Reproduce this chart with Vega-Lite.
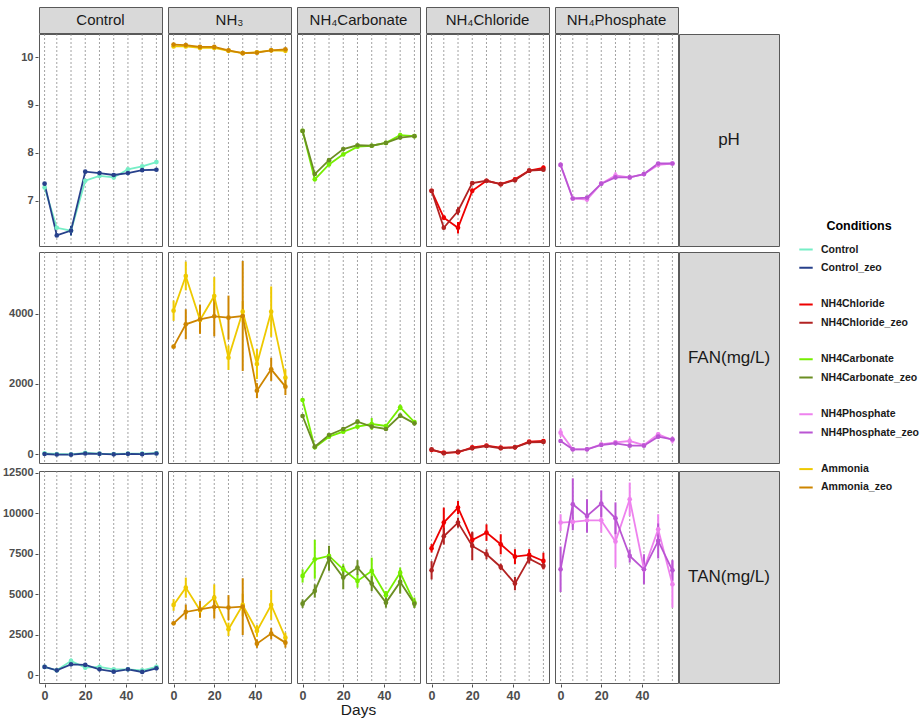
{
"$schema": "https://vega.github.io/schema/vega-lite/v6.json",
"background": "white",
"padding": {"left": 2, "top": 6, "right": 0, "bottom": 0},
"datasets": {
"strips": [
{"p":"Control","lab":"Control"},{"p":"NH3","lab":"NH₃"},{"p":"NH4Carbonate","lab":"NH₄Carbonate"},{"p":"NH4Chloride","lab":"NH₄Chloride"},{"p":"NH4Phosphate","lab":"NH₄Phosphate"}],
"d": [
{"p":"Control","m":"pH","c":"Control","d":0,"y":7.28,"e":0.03},{"p":"Control","m":"pH","c":"Control","d":6,"y":6.44,"e":0.03},{"p":"Control","m":"pH","c":"Control","d":13,"y":6.38,"e":0.1},{"p":"Control","m":"pH","c":"Control","d":20,"y":7.42,"e":0.03},{"p":"Control","m":"pH","c":"Control","d":27,"y":7.52,"e":0.03},{"p":"Control","m":"pH","c":"Control","d":34,"y":7.49,"e":0.04},{"p":"Control","m":"pH","c":"Control","d":41,"y":7.66,"e":0.03},{"p":"Control","m":"pH","c":"Control","d":48,"y":7.72,"e":0.03},{"p":"Control","m":"pH","c":"Control","d":55,"y":7.81,"e":0.03},
{"p":"Control","m":"pH","c":"Control_zeo","d":0,"y":7.36,"e":0.02},{"p":"Control","m":"pH","c":"Control_zeo","d":6,"y":6.28,"e":0.02},{"p":"Control","m":"pH","c":"Control_zeo","d":13,"y":6.38,"e":0.1},{"p":"Control","m":"pH","c":"Control_zeo","d":20,"y":7.61,"e":0.02},{"p":"Control","m":"pH","c":"Control_zeo","d":27,"y":7.58,"e":0.02},{"p":"Control","m":"pH","c":"Control_zeo","d":34,"y":7.54,"e":0.02},{"p":"Control","m":"pH","c":"Control_zeo","d":41,"y":7.58,"e":0.02},{"p":"Control","m":"pH","c":"Control_zeo","d":48,"y":7.64,"e":0.02},{"p":"Control","m":"pH","c":"Control_zeo","d":55,"y":7.65,"e":0.02},
{"p":"NH3","m":"pH","c":"Ammonia","d":0,"y":10.22,"e":0.03},{"p":"NH3","m":"pH","c":"Ammonia","d":6,"y":10.22,"e":0.03},{"p":"NH3","m":"pH","c":"Ammonia","d":13,"y":10.19,"e":0.03},{"p":"NH3","m":"pH","c":"Ammonia","d":20,"y":10.19,"e":0.03},{"p":"NH3","m":"pH","c":"Ammonia","d":27,"y":10.13,"e":0.03},{"p":"NH3","m":"pH","c":"Ammonia","d":34,"y":10.08,"e":0.03},{"p":"NH3","m":"pH","c":"Ammonia","d":41,"y":10.1,"e":0.03},{"p":"NH3","m":"pH","c":"Ammonia","d":48,"y":10.14,"e":0.03},{"p":"NH3","m":"pH","c":"Ammonia","d":55,"y":10.13,"e":0.03},
{"p":"NH3","m":"pH","c":"Ammonia_zeo","d":0,"y":10.26,"e":0.02},{"p":"NH3","m":"pH","c":"Ammonia_zeo","d":6,"y":10.25,"e":0.02},{"p":"NH3","m":"pH","c":"Ammonia_zeo","d":13,"y":10.21,"e":0.02},{"p":"NH3","m":"pH","c":"Ammonia_zeo","d":20,"y":10.21,"e":0.02},{"p":"NH3","m":"pH","c":"Ammonia_zeo","d":27,"y":10.14,"e":0.02},{"p":"NH3","m":"pH","c":"Ammonia_zeo","d":34,"y":10.08,"e":0.02},{"p":"NH3","m":"pH","c":"Ammonia_zeo","d":41,"y":10.09,"e":0.02},{"p":"NH3","m":"pH","c":"Ammonia_zeo","d":48,"y":10.14,"e":0.02},{"p":"NH3","m":"pH","c":"Ammonia_zeo","d":55,"y":10.16,"e":0.02},
{"p":"NH4Carbonate","m":"pH","c":"NH4Carbonate","d":0,"y":8.46,"e":0.03},{"p":"NH4Carbonate","m":"pH","c":"NH4Carbonate","d":6,"y":7.45,"e":0.04},{"p":"NH4Carbonate","m":"pH","c":"NH4Carbonate","d":13,"y":7.76,"e":0.03},{"p":"NH4Carbonate","m":"pH","c":"NH4Carbonate","d":20,"y":7.97,"e":0.03},{"p":"NH4Carbonate","m":"pH","c":"NH4Carbonate","d":27,"y":8.13,"e":0.03},{"p":"NH4Carbonate","m":"pH","c":"NH4Carbonate","d":34,"y":8.15,"e":0.02},{"p":"NH4Carbonate","m":"pH","c":"NH4Carbonate","d":41,"y":8.21,"e":0.02},{"p":"NH4Carbonate","m":"pH","c":"NH4Carbonate","d":48,"y":8.37,"e":0.05},{"p":"NH4Carbonate","m":"pH","c":"NH4Carbonate","d":55,"y":8.35,"e":0.02},
{"p":"NH4Carbonate","m":"pH","c":"NH4Carbonate_zeo","d":0,"y":8.46,"e":0.02},{"p":"NH4Carbonate","m":"pH","c":"NH4Carbonate_zeo","d":6,"y":7.56,"e":0.02},{"p":"NH4Carbonate","m":"pH","c":"NH4Carbonate_zeo","d":13,"y":7.85,"e":0.02},{"p":"NH4Carbonate","m":"pH","c":"NH4Carbonate_zeo","d":20,"y":8.08,"e":0.02},{"p":"NH4Carbonate","m":"pH","c":"NH4Carbonate_zeo","d":27,"y":8.16,"e":0.02},{"p":"NH4Carbonate","m":"pH","c":"NH4Carbonate_zeo","d":34,"y":8.15,"e":0.02},{"p":"NH4Carbonate","m":"pH","c":"NH4Carbonate_zeo","d":41,"y":8.21,"e":0.02},{"p":"NH4Carbonate","m":"pH","c":"NH4Carbonate_zeo","d":48,"y":8.32,"e":0.02},{"p":"NH4Carbonate","m":"pH","c":"NH4Carbonate_zeo","d":55,"y":8.35,"e":0.02},
{"p":"NH4Chloride","m":"pH","c":"NH4Chloride","d":0,"y":7.21,"e":0.03},{"p":"NH4Chloride","m":"pH","c":"NH4Chloride","d":6,"y":6.65,"e":0.05},{"p":"NH4Chloride","m":"pH","c":"NH4Chloride","d":13,"y":6.44,"e":0.12},{"p":"NH4Chloride","m":"pH","c":"NH4Chloride","d":20,"y":7.21,"e":0.05},{"p":"NH4Chloride","m":"pH","c":"NH4Chloride","d":27,"y":7.42,"e":0.02},{"p":"NH4Chloride","m":"pH","c":"NH4Chloride","d":34,"y":7.35,"e":0.03},{"p":"NH4Chloride","m":"pH","c":"NH4Chloride","d":41,"y":7.45,"e":0.03},{"p":"NH4Chloride","m":"pH","c":"NH4Chloride","d":48,"y":7.63,"e":0.03},{"p":"NH4Chloride","m":"pH","c":"NH4Chloride","d":55,"y":7.69,"e":0.05},
{"p":"NH4Chloride","m":"pH","c":"NH4Chloride_zeo","d":0,"y":7.21,"e":0.02},{"p":"NH4Chloride","m":"pH","c":"NH4Chloride_zeo","d":6,"y":6.44,"e":0.03},{"p":"NH4Chloride","m":"pH","c":"NH4Chloride_zeo","d":13,"y":6.79,"e":0.08},{"p":"NH4Chloride","m":"pH","c":"NH4Chloride_zeo","d":20,"y":7.37,"e":0.03},{"p":"NH4Chloride","m":"pH","c":"NH4Chloride_zeo","d":27,"y":7.42,"e":0.02},{"p":"NH4Chloride","m":"pH","c":"NH4Chloride_zeo","d":34,"y":7.35,"e":0.02},{"p":"NH4Chloride","m":"pH","c":"NH4Chloride_zeo","d":41,"y":7.43,"e":0.03},{"p":"NH4Chloride","m":"pH","c":"NH4Chloride_zeo","d":48,"y":7.63,"e":0.03},{"p":"NH4Chloride","m":"pH","c":"NH4Chloride_zeo","d":55,"y":7.65,"e":0.03},
{"p":"NH4Phosphate","m":"pH","c":"NH4Phosphate","d":0,"y":7.75,"e":0.05},{"p":"NH4Phosphate","m":"pH","c":"NH4Phosphate","d":6,"y":7.05,"e":0.03},{"p":"NH4Phosphate","m":"pH","c":"NH4Phosphate","d":13,"y":7.03,"e":0.05},{"p":"NH4Phosphate","m":"pH","c":"NH4Phosphate","d":20,"y":7.36,"e":0.03},{"p":"NH4Phosphate","m":"pH","c":"NH4Phosphate","d":27,"y":7.53,"e":0.07},{"p":"NH4Phosphate","m":"pH","c":"NH4Phosphate","d":34,"y":7.49,"e":0.03},{"p":"NH4Phosphate","m":"pH","c":"NH4Phosphate","d":41,"y":7.56,"e":0.03},{"p":"NH4Phosphate","m":"pH","c":"NH4Phosphate","d":48,"y":7.75,"e":0.03},{"p":"NH4Phosphate","m":"pH","c":"NH4Phosphate","d":55,"y":7.78,"e":0.03},
{"p":"NH4Phosphate","m":"pH","c":"NH4Phosphate_zeo","d":0,"y":7.75,"e":0.02},{"p":"NH4Phosphate","m":"pH","c":"NH4Phosphate_zeo","d":6,"y":7.05,"e":0.02},{"p":"NH4Phosphate","m":"pH","c":"NH4Phosphate_zeo","d":13,"y":7.07,"e":0.02},{"p":"NH4Phosphate","m":"pH","c":"NH4Phosphate_zeo","d":20,"y":7.36,"e":0.02},{"p":"NH4Phosphate","m":"pH","c":"NH4Phosphate_zeo","d":27,"y":7.49,"e":0.02},{"p":"NH4Phosphate","m":"pH","c":"NH4Phosphate_zeo","d":34,"y":7.49,"e":0.02},{"p":"NH4Phosphate","m":"pH","c":"NH4Phosphate_zeo","d":41,"y":7.56,"e":0.02},{"p":"NH4Phosphate","m":"pH","c":"NH4Phosphate_zeo","d":48,"y":7.78,"e":0.02},{"p":"NH4Phosphate","m":"pH","c":"NH4Phosphate_zeo","d":55,"y":7.78,"e":0.02},
{"p":"Control","m":"FAN","c":"Control","d":0,"y":20,"e":20},{"p":"Control","m":"FAN","c":"Control","d":6,"y":0,"e":20},{"p":"Control","m":"FAN","c":"Control","d":13,"y":-10,"e":20},{"p":"Control","m":"FAN","c":"Control","d":20,"y":30,"e":20},{"p":"Control","m":"FAN","c":"Control","d":27,"y":10,"e":20},{"p":"Control","m":"FAN","c":"Control","d":34,"y":0,"e":20},{"p":"Control","m":"FAN","c":"Control","d":41,"y":10,"e":20},{"p":"Control","m":"FAN","c":"Control","d":48,"y":10,"e":20},{"p":"Control","m":"FAN","c":"Control","d":55,"y":25,"e":20},
{"p":"Control","m":"FAN","c":"Control_zeo","d":0,"y":0,"e":15},{"p":"Control","m":"FAN","c":"Control_zeo","d":6,"y":-15,"e":15},{"p":"Control","m":"FAN","c":"Control_zeo","d":13,"y":-20,"e":15},{"p":"Control","m":"FAN","c":"Control_zeo","d":20,"y":15,"e":15},{"p":"Control","m":"FAN","c":"Control_zeo","d":27,"y":5,"e":15},{"p":"Control","m":"FAN","c":"Control_zeo","d":34,"y":-10,"e":15},{"p":"Control","m":"FAN","c":"Control_zeo","d":41,"y":5,"e":15},{"p":"Control","m":"FAN","c":"Control_zeo","d":48,"y":-5,"e":15},{"p":"Control","m":"FAN","c":"Control_zeo","d":55,"y":15,"e":15},
{"p":"NH3","m":"FAN","c":"Ammonia","d":0,"y":4095,"e":290},{"p":"NH3","m":"FAN","c":"Ammonia","d":6,"y":5086,"e":410},{"p":"NH3","m":"FAN","c":"Ammonia","d":13,"y":3829,"e":200},{"p":"NH3","m":"FAN","c":"Ammonia","d":20,"y":4514,"e":540},{"p":"NH3","m":"FAN","c":"Ammonia","d":27,"y":2752,"e":350},{"p":"NH3","m":"FAN","c":"Ammonia","d":34,"y":4067,"e":300},{"p":"NH3","m":"FAN","c":"Ammonia","d":41,"y":2571,"e":430},{"p":"NH3","m":"FAN","c":"Ammonia","d":48,"y":4067,"e":720},{"p":"NH3","m":"FAN","c":"Ammonia","d":55,"y":2181,"e":240},
{"p":"NH3","m":"FAN","c":"Ammonia_zeo","d":0,"y":3067,"e":40},{"p":"NH3","m":"FAN","c":"Ammonia_zeo","d":6,"y":3705,"e":430},{"p":"NH3","m":"FAN","c":"Ammonia_zeo","d":13,"y":3848,"e":415},{"p":"NH3","m":"FAN","c":"Ammonia_zeo","d":20,"y":3933,"e":570},{"p":"NH3","m":"FAN","c":"Ammonia_zeo","d":27,"y":3895,"e":630},{"p":"NH3","m":"FAN","c":"Ammonia_zeo","d":34,"y":3943,"e":1570},{"p":"NH3","m":"FAN","c":"Ammonia_zeo","d":41,"y":1810,"e":215},{"p":"NH3","m":"FAN","c":"Ammonia_zeo","d":48,"y":2419,"e":330},{"p":"NH3","m":"FAN","c":"Ammonia_zeo","d":55,"y":1924,"e":240},
{"p":"NH4Carbonate","m":"FAN","c":"NH4Carbonate","d":0,"y":1543,"e":50},{"p":"NH4Carbonate","m":"FAN","c":"NH4Carbonate","d":6,"y":190,"e":30},{"p":"NH4Carbonate","m":"FAN","c":"NH4Carbonate","d":13,"y":495,"e":40},{"p":"NH4Carbonate","m":"FAN","c":"NH4Carbonate","d":20,"y":638,"e":60},{"p":"NH4Carbonate","m":"FAN","c":"NH4Carbonate","d":27,"y":781,"e":50},{"p":"NH4Carbonate","m":"FAN","c":"NH4Carbonate","d":34,"y":857,"e":170},{"p":"NH4Carbonate","m":"FAN","c":"NH4Carbonate","d":41,"y":800,"e":60},{"p":"NH4Carbonate","m":"FAN","c":"NH4Carbonate","d":48,"y":1333,"e":80},{"p":"NH4Carbonate","m":"FAN","c":"NH4Carbonate","d":55,"y":914,"e":60},
{"p":"NH4Carbonate","m":"FAN","c":"NH4Carbonate_zeo","d":0,"y":1086,"e":40},{"p":"NH4Carbonate","m":"FAN","c":"NH4Carbonate_zeo","d":6,"y":210,"e":30},{"p":"NH4Carbonate","m":"FAN","c":"NH4Carbonate_zeo","d":13,"y":543,"e":50},{"p":"NH4Carbonate","m":"FAN","c":"NH4Carbonate_zeo","d":20,"y":714,"e":50},{"p":"NH4Carbonate","m":"FAN","c":"NH4Carbonate_zeo","d":27,"y":924,"e":60},{"p":"NH4Carbonate","m":"FAN","c":"NH4Carbonate_zeo","d":34,"y":781,"e":50},{"p":"NH4Carbonate","m":"FAN","c":"NH4Carbonate_zeo","d":41,"y":714,"e":40},{"p":"NH4Carbonate","m":"FAN","c":"NH4Carbonate_zeo","d":48,"y":1095,"e":60},{"p":"NH4Carbonate","m":"FAN","c":"NH4Carbonate_zeo","d":55,"y":876,"e":60},
{"p":"NH4Chloride","m":"FAN","c":"NH4Chloride","d":0,"y":114,"e":30},{"p":"NH4Chloride","m":"FAN","c":"NH4Chloride","d":6,"y":38,"e":20},{"p":"NH4Chloride","m":"FAN","c":"NH4Chloride","d":13,"y":48,"e":20},{"p":"NH4Chloride","m":"FAN","c":"NH4Chloride","d":20,"y":190,"e":30},{"p":"NH4Chloride","m":"FAN","c":"NH4Chloride","d":27,"y":238,"e":30},{"p":"NH4Chloride","m":"FAN","c":"NH4Chloride","d":34,"y":181,"e":20},{"p":"NH4Chloride","m":"FAN","c":"NH4Chloride","d":41,"y":190,"e":20},{"p":"NH4Chloride","m":"FAN","c":"NH4Chloride","d":48,"y":352,"e":30},{"p":"NH4Chloride","m":"FAN","c":"NH4Chloride","d":55,"y":371,"e":50},
{"p":"NH4Chloride","m":"FAN","c":"NH4Chloride_zeo","d":0,"y":133,"e":20},{"p":"NH4Chloride","m":"FAN","c":"NH4Chloride_zeo","d":6,"y":19,"e":20},{"p":"NH4Chloride","m":"FAN","c":"NH4Chloride_zeo","d":13,"y":67,"e":20},{"p":"NH4Chloride","m":"FAN","c":"NH4Chloride_zeo","d":20,"y":162,"e":20},{"p":"NH4Chloride","m":"FAN","c":"NH4Chloride_zeo","d":27,"y":229,"e":20},{"p":"NH4Chloride","m":"FAN","c":"NH4Chloride_zeo","d":34,"y":162,"e":20},{"p":"NH4Chloride","m":"FAN","c":"NH4Chloride_zeo","d":41,"y":190,"e":20},{"p":"NH4Chloride","m":"FAN","c":"NH4Chloride_zeo","d":48,"y":333,"e":20},{"p":"NH4Chloride","m":"FAN","c":"NH4Chloride_zeo","d":55,"y":343,"e":20},
{"p":"NH4Phosphate","m":"FAN","c":"NH4Phosphate","d":0,"y":610,"e":120},{"p":"NH4Phosphate","m":"FAN","c":"NH4Phosphate","d":6,"y":133,"e":20},{"p":"NH4Phosphate","m":"FAN","c":"NH4Phosphate","d":13,"y":133,"e":20},{"p":"NH4Phosphate","m":"FAN","c":"NH4Phosphate","d":20,"y":276,"e":30},{"p":"NH4Phosphate","m":"FAN","c":"NH4Phosphate","d":27,"y":333,"e":60},{"p":"NH4Phosphate","m":"FAN","c":"NH4Phosphate","d":34,"y":371,"e":100},{"p":"NH4Phosphate","m":"FAN","c":"NH4Phosphate","d":41,"y":257,"e":30},{"p":"NH4Phosphate","m":"FAN","c":"NH4Phosphate","d":48,"y":562,"e":60},{"p":"NH4Phosphate","m":"FAN","c":"NH4Phosphate","d":55,"y":400,"e":100},
{"p":"NH4Phosphate","m":"FAN","c":"NH4Phosphate_zeo","d":0,"y":371,"e":30},{"p":"NH4Phosphate","m":"FAN","c":"NH4Phosphate_zeo","d":6,"y":133,"e":20},{"p":"NH4Phosphate","m":"FAN","c":"NH4Phosphate_zeo","d":13,"y":133,"e":20},{"p":"NH4Phosphate","m":"FAN","c":"NH4Phosphate_zeo","d":20,"y":257,"e":30},{"p":"NH4Phosphate","m":"FAN","c":"NH4Phosphate_zeo","d":27,"y":305,"e":40},{"p":"NH4Phosphate","m":"FAN","c":"NH4Phosphate_zeo","d":34,"y":238,"e":30},{"p":"NH4Phosphate","m":"FAN","c":"NH4Phosphate_zeo","d":41,"y":238,"e":30},{"p":"NH4Phosphate","m":"FAN","c":"NH4Phosphate_zeo","d":48,"y":495,"e":50},{"p":"NH4Phosphate","m":"FAN","c":"NH4Phosphate_zeo","d":55,"y":419,"e":40},
{"p":"Control","m":"TAN","c":"Control","d":0,"y":514,"e":60},{"p":"Control","m":"TAN","c":"Control","d":6,"y":308,"e":40},{"p":"Control","m":"TAN","c":"Control","d":13,"y":884,"e":150},{"p":"Control","m":"TAN","c":"Control","d":20,"y":473,"e":100},{"p":"Control","m":"TAN","c":"Control","d":27,"y":514,"e":80},{"p":"Control","m":"TAN","c":"Control","d":34,"y":370,"e":60},{"p":"Control","m":"TAN","c":"Control","d":41,"y":370,"e":50},{"p":"Control","m":"TAN","c":"Control","d":48,"y":308,"e":50},{"p":"Control","m":"TAN","c":"Control","d":55,"y":514,"e":60},
{"p":"Control","m":"TAN","c":"Control_zeo","d":0,"y":514,"e":40},{"p":"Control","m":"TAN","c":"Control_zeo","d":6,"y":308,"e":30},{"p":"Control","m":"TAN","c":"Control_zeo","d":13,"y":678,"e":60},{"p":"Control","m":"TAN","c":"Control_zeo","d":20,"y":637,"e":60},{"p":"Control","m":"TAN","c":"Control_zeo","d":27,"y":370,"e":40},{"p":"Control","m":"TAN","c":"Control_zeo","d":34,"y":226,"e":30},{"p":"Control","m":"TAN","c":"Control_zeo","d":41,"y":370,"e":30},{"p":"Control","m":"TAN","c":"Control_zeo","d":48,"y":206,"e":30},{"p":"Control","m":"TAN","c":"Control_zeo","d":55,"y":432,"e":40},
{"p":"NH3","m":"TAN","c":"Ammonia","d":0,"y":4338,"e":360},{"p":"NH3","m":"TAN","c":"Ammonia","d":6,"y":5407,"e":620},{"p":"NH3","m":"TAN","c":"Ammonia","d":13,"y":4009,"e":460},{"p":"NH3","m":"TAN","c":"Ammonia","d":20,"y":4790,"e":820},{"p":"NH3","m":"TAN","c":"Ammonia","d":27,"y":2837,"e":410},{"p":"NH3","m":"TAN","c":"Ammonia","d":34,"y":4338,"e":700},{"p":"NH3","m":"TAN","c":"Ammonia","d":41,"y":2734,"e":360},{"p":"NH3","m":"TAN","c":"Ammonia","d":48,"y":4338,"e":920},{"p":"NH3","m":"TAN","c":"Ammonia","d":55,"y":2323,"e":310},
{"p":"NH3","m":"TAN","c":"Ammonia_zeo","d":0,"y":3207,"e":60},{"p":"NH3","m":"TAN","c":"Ammonia_zeo","d":6,"y":3906,"e":460},{"p":"NH3","m":"TAN","c":"Ammonia_zeo","d":13,"y":4071,"e":510},{"p":"NH3","m":"TAN","c":"Ammonia_zeo","d":20,"y":4215,"e":720},{"p":"NH3","m":"TAN","c":"Ammonia_zeo","d":27,"y":4174,"e":770},{"p":"NH3","m":"TAN","c":"Ammonia_zeo","d":34,"y":4235,"e":1750},{"p":"NH3","m":"TAN","c":"Ammonia_zeo","d":41,"y":1953,"e":260},{"p":"NH3","m":"TAN","c":"Ammonia_zeo","d":48,"y":2570,"e":350},{"p":"NH3","m":"TAN","c":"Ammonia_zeo","d":55,"y":2015,"e":310},
{"p":"NH4Carbonate","m":"TAN","c":"NH4Carbonate","d":0,"y":6127,"e":410},{"p":"NH4Carbonate","m":"TAN","c":"NH4Carbonate","d":6,"y":7155,"e":1200},{"p":"NH4Carbonate","m":"TAN","c":"NH4Carbonate","d":13,"y":7360,"e":410},{"p":"NH4Carbonate","m":"TAN","c":"NH4Carbonate","d":20,"y":6538,"e":310},{"p":"NH4Carbonate","m":"TAN","c":"NH4Carbonate","d":27,"y":5818,"e":410},{"p":"NH4Carbonate","m":"TAN","c":"NH4Carbonate","d":34,"y":6435,"e":820},{"p":"NH4Carbonate","m":"TAN","c":"NH4Carbonate","d":41,"y":4934,"e":260},{"p":"NH4Carbonate","m":"TAN","c":"NH4Carbonate","d":48,"y":6332,"e":310},{"p":"NH4Carbonate","m":"TAN","c":"NH4Carbonate","d":55,"y":4482,"e":310},
{"p":"NH4Carbonate","m":"TAN","c":"NH4Carbonate_zeo","d":0,"y":4420,"e":260},{"p":"NH4Carbonate","m":"TAN","c":"NH4Carbonate_zeo","d":6,"y":5202,"e":410},{"p":"NH4Carbonate","m":"TAN","c":"NH4Carbonate_zeo","d":13,"y":7217,"e":770},{"p":"NH4Carbonate","m":"TAN","c":"NH4Carbonate_zeo","d":20,"y":6024,"e":720},{"p":"NH4Carbonate","m":"TAN","c":"NH4Carbonate_zeo","d":27,"y":6641,"e":460},{"p":"NH4Carbonate","m":"TAN","c":"NH4Carbonate_zeo","d":34,"y":5654,"e":460},{"p":"NH4Carbonate","m":"TAN","c":"NH4Carbonate_zeo","d":41,"y":4482,"e":310},{"p":"NH4Carbonate","m":"TAN","c":"NH4Carbonate_zeo","d":48,"y":5757,"e":720},{"p":"NH4Carbonate","m":"TAN","c":"NH4Carbonate_zeo","d":55,"y":4420,"e":260},
{"p":"NH4Chloride","m":"TAN","c":"NH4Chloride","d":0,"y":7833,"e":260},{"p":"NH4Chloride","m":"TAN","c":"NH4Chloride","d":6,"y":9417,"e":925},{"p":"NH4Chloride","m":"TAN","c":"NH4Chloride","d":13,"y":10342,"e":410},{"p":"NH4Chloride","m":"TAN","c":"NH4Chloride","d":20,"y":8347,"e":460},{"p":"NH4Chloride","m":"TAN","c":"NH4Chloride","d":27,"y":8800,"e":510},{"p":"NH4Chloride","m":"TAN","c":"NH4Chloride","d":34,"y":8080,"e":620},{"p":"NH4Chloride","m":"TAN","c":"NH4Chloride","d":41,"y":7319,"e":460},{"p":"NH4Chloride","m":"TAN","c":"NH4Chloride","d":48,"y":7422,"e":360},{"p":"NH4Chloride","m":"TAN","c":"NH4Chloride","d":55,"y":7052,"e":510},
{"p":"NH4Chloride","m":"TAN","c":"NH4Chloride_zeo","d":0,"y":6476,"e":565},{"p":"NH4Chloride","m":"TAN","c":"NH4Chloride_zeo","d":6,"y":8573,"e":510},{"p":"NH4Chloride","m":"TAN","c":"NH4Chloride_zeo","d":13,"y":9417,"e":310},{"p":"NH4Chloride","m":"TAN","c":"NH4Chloride_zeo","d":20,"y":7977,"e":875},{"p":"NH4Chloride","m":"TAN","c":"NH4Chloride_zeo","d":27,"y":7463,"e":310},{"p":"NH4Chloride","m":"TAN","c":"NH4Chloride_zeo","d":34,"y":6682,"e":200},{"p":"NH4Chloride","m":"TAN","c":"NH4Chloride_zeo","d":41,"y":5654,"e":410},{"p":"NH4Chloride","m":"TAN","c":"NH4Chloride_zeo","d":48,"y":7196,"e":310},{"p":"NH4Chloride","m":"TAN","c":"NH4Chloride_zeo","d":55,"y":6744,"e":200},
{"p":"NH4Phosphate","m":"TAN","c":"NH4Phosphate","d":0,"y":9417,"e":515},{"p":"NH4Phosphate","m":"TAN","c":"NH4Phosphate","d":6,"y":9458,"e":300},{"p":"NH4Phosphate","m":"TAN","c":"NH4Phosphate","d":13,"y":9561,"e":200},{"p":"NH4Phosphate","m":"TAN","c":"NH4Phosphate","d":20,"y":9561,"e":760},{"p":"NH4Phosphate","m":"TAN","c":"NH4Phosphate","d":27,"y":8245,"e":1600},{"p":"NH4Phosphate","m":"TAN","c":"NH4Phosphate","d":34,"y":10857,"e":1030},{"p":"NH4Phosphate","m":"TAN","c":"NH4Phosphate","d":41,"y":6538,"e":600},{"p":"NH4Phosphate","m":"TAN","c":"NH4Phosphate","d":48,"y":9006,"e":925},{"p":"NH4Phosphate","m":"TAN","c":"NH4Phosphate","d":55,"y":5613,"e":1440},
{"p":"NH4Phosphate","m":"TAN","c":"NH4Phosphate_zeo","d":0,"y":6538,"e":1400},{"p":"NH4Phosphate","m":"TAN","c":"NH4Phosphate_zeo","d":6,"y":10548,"e":1600},{"p":"NH4Phosphate","m":"TAN","c":"NH4Phosphate_zeo","d":13,"y":9828,"e":1030},{"p":"NH4Phosphate","m":"TAN","c":"NH4Phosphate_zeo","d":20,"y":10589,"e":820},{"p":"NH4Phosphate","m":"TAN","c":"NH4Phosphate_zeo","d":27,"y":9684,"e":980},{"p":"NH4Phosphate","m":"TAN","c":"NH4Phosphate_zeo","d":34,"y":7360,"e":410},{"p":"NH4Phosphate","m":"TAN","c":"NH4Phosphate_zeo","d":41,"y":6538,"e":925},{"p":"NH4Phosphate","m":"TAN","c":"NH4Phosphate_zeo","d":48,"y":8286,"e":1080},{"p":"NH4Phosphate","m":"TAN","c":"NH4Phosphate_zeo","d":55,"y":6476,"e":640}
]},
"config": {
"font": "Liberation Sans",
"view": {"stroke": "#595959", "strokeWidth": 1},
"axis": {"labelFontWeight": "bold", "labelColor": "#4D4D4D", "tickColor": "#4D4D4D", "tickSize": 3, "labelPadding": 2, "domain": false, "grid": false, "format": "d"},
"axisY": {"labelFontSize": 11},
"axisX": {"labelFontSize": 12.5},
"legend": {"orient": "none", "legendX": 759, "legendY": 213, "titleAnchor": "middle", "titleFontSize": 12.5, "titleFontWeight": "bold", "titleColor": "#000000", "titlePadding": 10, "labelFontSize": 10.5, "labelFontWeight": "bold", "labelColor": "#1A1A1A", "symbolType": "stroke", "symbolStrokeWidth": 2, "symbolSize": 180, "clipHeight": 14, "rowPadding": 4.3, "labelOffset": 7, "padding": 0}
},
"spacing": 2,
"vconcat": [
{"spacing": 4, "vconcat": [
{"spacing": -3, "vconcat": [
{
"data": {"name": "strips"},
"facet": {"column": {"field": "p", "type": "nominal", "sort": ["Control","NH3","NH4Carbonate","NH4Chloride","NH4Phosphate"], "header": null}},
"spacing": 4,
"spec": {
"width": 123, "height": 26,
"view": {"fill": "#D9D9D9", "stroke": "#595959"},
"mark": {"type": "text", "fontSize": 15, "color": "#1A1A1A"},
"encoding": {"text": {"field": "lab", "type": "nominal"}}
}
},
{"spacing": -2, "hconcat": [
{
"data": {"name": "d"},
"transform": [{"filter": "datum.m == 'pH'"}],
"facet": {"column": {"field": "p", "type": "nominal", "sort": ["Control","NH3","NH4Carbonate","NH4Chloride","NH4Phosphate"], "header": null}},
"spacing": 4,
"spec": {
"width": 123, "height": 212,
"layer": [
{"transform": [{"filter": {"field": "c", "oneOf": ["Control","Ammonia","NH4Carbonate","NH4Chloride","NH4Phosphate"]}}], "mark": {"type": "rule", "strokeDash": [2, 2], "color": "#8C8C8C", "strokeWidth": 0.8}, "encoding": {"x": {"field": "d", "type": "quantitative", "scale": {"domain": [-2.75, 57.75], "nice": false, "zero": false}, "axis": null}}},
{"mark": {"type": "errorbar", "thickness": 2}, "encoding": {"x": {"field": "d", "type": "quantitative", "axis": null}, "y": {"field": "y", "type": "quantitative", "scale": {"domain": [6.06, 10.48], "nice": false, "zero": false}, "axis": {"values": [7, 8, 9, 10], "title": null}}, "yError": {"field": "e"}, "color": {"field": "c", "type": "nominal", "title": "Conditions", "scale": {"domain": ["Control","Control_zeo"," ","NH4Chloride","NH4Chloride_zeo","  ","NH4Carbonate","NH4Carbonate_zeo","   ","NH4Phosphate","NH4Phosphate_zeo","    ","Ammonia","Ammonia_zeo"], "range": ["#76EEC6","#27408B","#FFFFFF","#EE0000","#B22222","#FFFFFF","#76EE00","#6B8E23","#FFFFFF","#EE82EE","#BA55D3","#FFFFFF","#EEC900","#CD8500"]}}}},
{"mark": {"type": "line", "strokeWidth": 1.8}, "encoding": {"x": {"field": "d", "type": "quantitative", "axis": null}, "y": {"field": "y", "type": "quantitative", "axis": {"values": [7, 8, 9, 10], "title": null}}, "color": {"field": "c", "type": "nominal", "title": "Conditions"}}},
{"mark": {"type": "circle", "size": 22, "opacity": 1}, "encoding": {"x": {"field": "d", "type": "quantitative", "axis": null}, "y": {"field": "y", "type": "quantitative", "axis": {"values": [7, 8, 9, 10], "title": null}}, "color": {"field": "c", "type": "nominal", "title": "Conditions"}}}
]
}
},
{"data": {"values": [{"lab": "pH"}]}, "width": 100, "height": 212, "view": {"fill": "#D9D9D9", "stroke": "#595959"}, "mark": {"type": "text", "fontSize": 17, "color": "#1A1A1A"}, "encoding": {"text": {"field": "lab", "type": "nominal"}}}
]}
]},
{"spacing": -2, "hconcat": [
{
"data": {"name": "d"},
"transform": [{"filter": "datum.m == 'FAN'"}],
"facet": {"column": {"field": "p", "type": "nominal", "sort": ["Control","NH3","NH4Carbonate","NH4Chloride","NH4Phosphate"], "header": null}},
"spacing": 4,
"spec": {
"width": 123, "height": 211,
"layer": [
{"transform": [{"filter": {"field": "c", "oneOf": ["Control","Ammonia","NH4Carbonate","NH4Chloride","NH4Phosphate"]}}], "mark": {"type": "rule", "strokeDash": [2, 2], "color": "#8C8C8C", "strokeWidth": 0.8}, "encoding": {"x": {"field": "d", "type": "quantitative", "scale": {"domain": [-2.75, 57.75], "nice": false, "zero": false}, "axis": null}}},
{"mark": {"type": "errorbar", "thickness": 2}, "encoding": {"x": {"field": "d", "type": "quantitative", "axis": null}, "y": {"field": "y", "type": "quantitative", "scale": {"domain": [-257, 5771], "nice": false, "zero": false}, "axis": {"values": [0, 2000, 4000], "title": null}}, "yError": {"field": "e"}, "color": {"field": "c", "type": "nominal", "title": "Conditions"}}},
{"mark": {"type": "line", "strokeWidth": 1.8}, "encoding": {"x": {"field": "d", "type": "quantitative", "axis": null}, "y": {"field": "y", "type": "quantitative", "axis": {"values": [0, 2000, 4000], "title": null}}, "color": {"field": "c", "type": "nominal", "title": "Conditions"}}},
{"mark": {"type": "circle", "size": 22, "opacity": 1}, "encoding": {"x": {"field": "d", "type": "quantitative", "axis": null}, "y": {"field": "y", "type": "quantitative", "axis": {"values": [0, 2000, 4000], "title": null}}, "color": {"field": "c", "type": "nominal", "title": "Conditions"}}}
]
}
},
{"data": {"values": [{"lab": "FAN(mg/L)"}]}, "width": 100, "height": 211, "view": {"fill": "#D9D9D9", "stroke": "#595959"}, "mark": {"type": "text", "fontSize": 17, "color": "#1A1A1A"}, "encoding": {"text": {"field": "lab", "type": "nominal"}}}
]}
]},
{"spacing": 0, "vconcat": [
{"spacing": -2, "hconcat": [
{
"data": {"name": "d"},
"transform": [{"filter": "datum.m == 'TAN'"}],
"facet": {"column": {"field": "p", "type": "nominal", "sort": ["Control","NH3","NH4Carbonate","NH4Chloride","NH4Phosphate"], "header": null}},
"spacing": 4,
"spec": {
"width": 123, "height": 212,
"layer": [
{"transform": [{"filter": {"field": "c", "oneOf": ["Control","Ammonia","NH4Carbonate","NH4Chloride","NH4Phosphate"]}}], "mark": {"type": "rule", "strokeDash": [2, 2], "color": "#8C8C8C", "strokeWidth": 0.8}, "encoding": {"x": {"field": "d", "type": "quantitative", "scale": {"domain": [-2.75, 57.75], "nice": false, "zero": false}, "axis": {"values": [0, 20, 40], "title": null}}}},
{"mark": {"type": "errorbar", "thickness": 2}, "encoding": {"x": {"field": "d", "type": "quantitative", "axis": {"values": [0, 20, 40], "title": null}}, "y": {"field": "y", "type": "quantitative", "scale": {"domain": [-475, 12600], "nice": false, "zero": false}, "axis": {"values": [0, 2500, 5000, 7500, 10000, 12500], "title": null}}, "yError": {"field": "e"}, "color": {"field": "c", "type": "nominal", "title": "Conditions"}}},
{"mark": {"type": "line", "strokeWidth": 1.8}, "encoding": {"x": {"field": "d", "type": "quantitative", "axis": {"values": [0, 20, 40], "title": null}}, "y": {"field": "y", "type": "quantitative", "axis": {"values": [0, 2500, 5000, 7500, 10000, 12500], "title": null}}, "color": {"field": "c", "type": "nominal", "title": "Conditions"}}},
{"mark": {"type": "circle", "size": 22, "opacity": 1}, "encoding": {"x": {"field": "d", "type": "quantitative", "axis": {"values": [0, 20, 40], "title": null}}, "y": {"field": "y", "type": "quantitative", "axis": {"values": [0, 2500, 5000, 7500, 10000, 12500], "title": null}}, "color": {"field": "c", "type": "nominal", "title": "Conditions"}}}
]
}
},
{"data": {"values": [{"lab": "TAN(mg/L)"}]}, "width": 100, "height": 212, "view": {"fill": "#D9D9D9", "stroke": "#595959"}, "mark": {"type": "text", "fontSize": 17, "color": "#1A1A1A"}, "encoding": {"text": {"field": "lab", "type": "nominal"}}}
]},
{"data": {"values": [{"lab": "Days"}]}, "width": 639, "height": 16, "view": {"stroke": null}, "mark": {"type": "text", "fontSize": 15.5, "color": "#1A1A1A", "baseline": "middle"}, "encoding": {"text": {"field": "lab", "type": "nominal"}}}
]}
]
}
